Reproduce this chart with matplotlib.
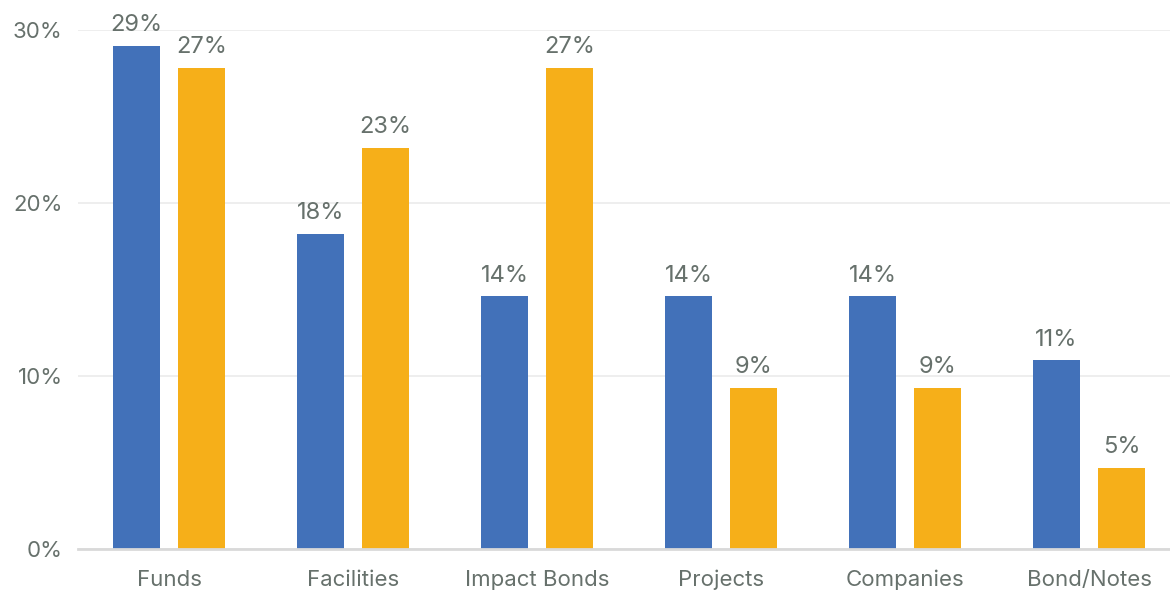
import matplotlib
matplotlib.use("Agg")
import matplotlib.pyplot as plt
import numpy as np

categories = ["Funds", "Facilities", "Impact Bonds", "Projects", "Companies", "Bond/Notes"]
series_a = [29.1, 18.2, 14.6, 14.6, 14.6, 10.9]
series_b = [27.8, 23.2, 27.8, 9.3, 9.3, 4.7]
labels_a = ["29%", "18%", "14%", "14%", "14%", "11%"]
labels_b = ["27%", "23%", "27%", "9%", "9%", "5%"]
yticks = [0, 10, 20, 30]
ytick_labels = ["0%", "10%", "20%", "30%"]

blue = "#4271B9"
orange = "#F6AF19"
text_color = "#67716C"

plt.rcParams['font.family'] = ['Inter', 'DejaVu Sans']
FS = 16

fig = plt.figure(figsize=(11.7, 5.94), dpi=100)
ax = fig.add_axes([78/1170, 1 - 549/594, 1 - 78/1170, (549 - 30)/594])

x = np.arange(len(categories))
w = 0.256
off = 0.177
ba = ax.bar(x - off, series_a, width=w, color=blue, zorder=3)
bb = ax.bar(x + off, series_b, width=w, color=orange, zorder=3)

for bars, labs in ((ba, labels_a), (bb, labels_b)):
    for rect, lab in zip(bars, labs):
        ax.annotate(lab, (rect.get_x() + rect.get_width()/2, rect.get_height()),
                    xytext=(0, 7), textcoords="offset points", ha="center", va="bottom",
                    fontsize=17, color=text_color, clip_on=False)

ax.set_xlim(-0.4946, 5.44)
ax.set_ylim(0, 30)
ax.set_yticks(yticks)
ax.set_yticklabels(ytick_labels)
ax.set_xticks(x)
ax.set_xticklabels(categories)
ax.tick_params(axis='both', length=0, labelsize=FS, labelcolor=text_color)
ax.tick_params(axis='x', pad=15)
ax.tick_params(axis='y', pad=11)
ax.grid(axis='y', color="#EBEBEB", linewidth=1.2, zorder=0)
for s in ["top", "right", "left"]:
    ax.spines[s].set_visible(False)
ax.spines["bottom"].set_color("#D9D9D9")
ax.spines["bottom"].set_linewidth(2)
ax.spines["bottom"].set_zorder(4)

fig.savefig("out.png", dpi=100)
